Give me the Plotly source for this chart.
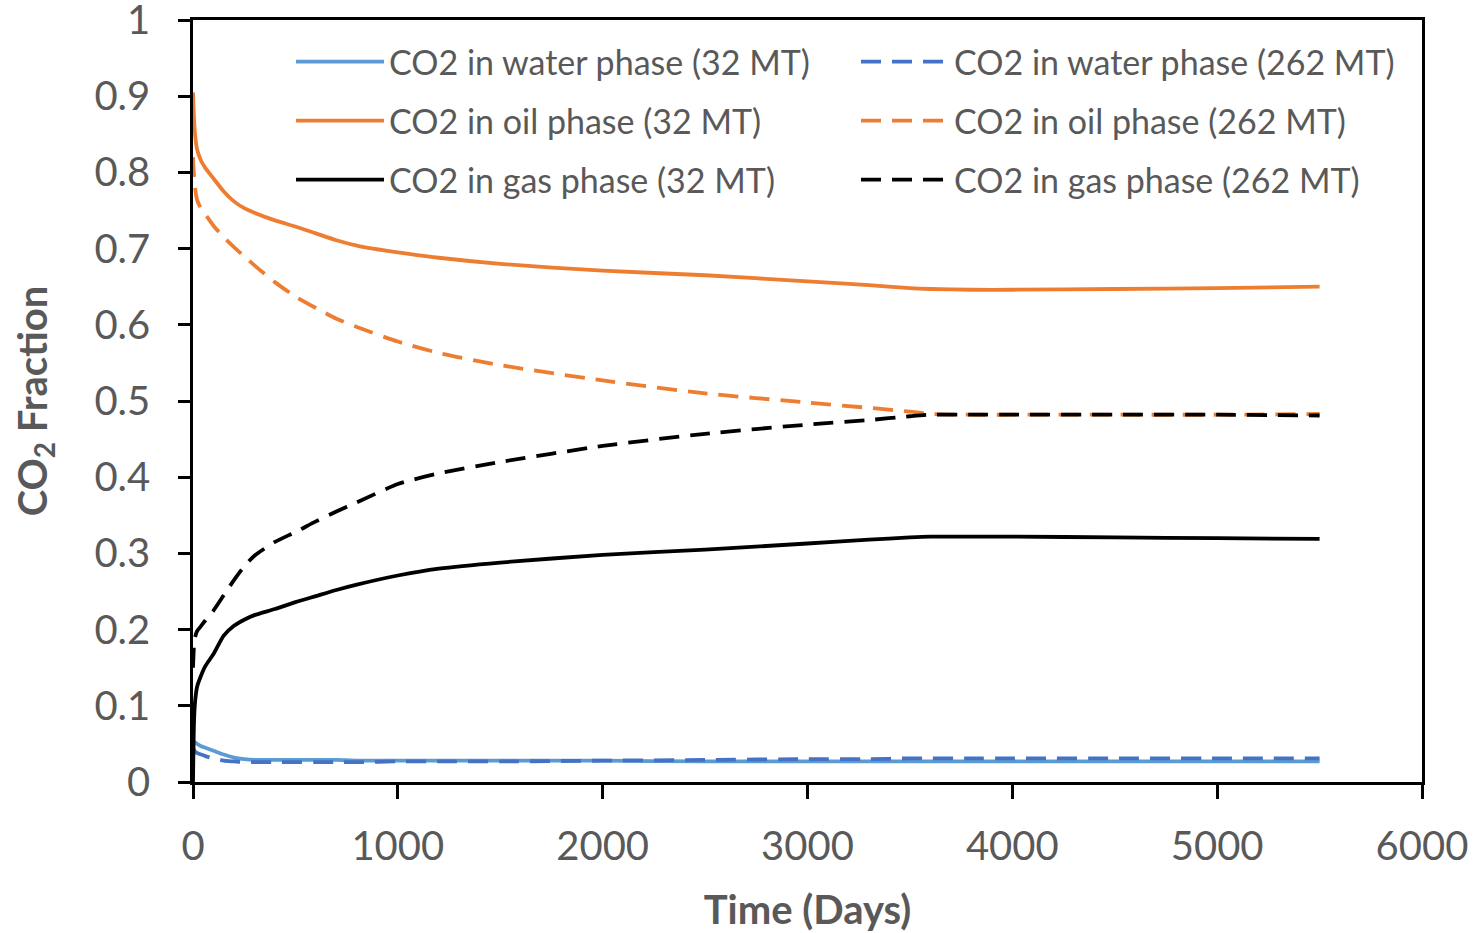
import plotly.graph_objects as go

# ---- data ----
time_days = [0, 5, 10, 20, 40, 60, 100, 150, 200, 250, 300, 400, 500, 600, 700, 800,
             1000, 1200, 1500, 2000, 2500, 3000, 3300, 3500, 3600, 3800, 4000, 4500, 5000, 5500]

water_32 = [0.055, 0.053, 0.052, 0.050, 0.047, 0.045, 0.041, 0.036, 0.032, 0.030, 0.029, 0.029,
            0.029, 0.029, 0.029, 0.028, 0.028, 0.028, 0.028, 0.028, 0.027, 0.027, 0.027, 0.027,
            0.027, 0.027, 0.027, 0.027, 0.027, 0.027]
water_262 = [0.045, 0.042, 0.040, 0.038, 0.036, 0.034, 0.031, 0.028, 0.027, 0.026, 0.026, 0.026,
             0.026, 0.026, 0.026, 0.026, 0.027, 0.027, 0.027, 0.028, 0.029, 0.030, 0.030, 0.031,
             0.031, 0.031, 0.031, 0.031, 0.031, 0.031]
oil_32 = [0.905, 0.870, 0.850, 0.830, 0.815, 0.806, 0.792, 0.775, 0.762, 0.753, 0.747, 0.737,
          0.729, 0.720, 0.711, 0.704, 0.695, 0.688, 0.680, 0.671, 0.665, 0.657, 0.652, 0.648,
          0.647, 0.646, 0.646, 0.647, 0.648, 0.650]
oil_262 = [0.820, 0.795, 0.780, 0.764, 0.752, 0.745, 0.730, 0.715, 0.702, 0.690, 0.678, 0.656,
           0.637, 0.622, 0.608, 0.597, 0.578, 0.563, 0.547, 0.527, 0.510, 0.498, 0.491, 0.486,
           0.483, 0.482, 0.482, 0.482, 0.482, 0.483]
gas_32 = [0.000, 0.080, 0.105, 0.125, 0.140, 0.152, 0.168, 0.192, 0.205, 0.213, 0.219, 0.227,
          0.236, 0.244, 0.252, 0.259, 0.271, 0.280, 0.288, 0.298, 0.305, 0.313, 0.318, 0.321,
          0.322, 0.322, 0.322, 0.321, 0.320, 0.319]
gas_262 = [0.150, 0.180, 0.190, 0.198, 0.205, 0.212, 0.225, 0.245, 0.265, 0.283, 0.297, 0.315,
           0.328, 0.342, 0.355, 0.367, 0.391, 0.405, 0.420, 0.441, 0.457, 0.469, 0.475, 0.480,
           0.482, 0.482, 0.482, 0.482, 0.482, 0.481]

x_ticks = [0, 1000, 2000, 3000, 4000, 5000, 6000]
y_ticks = [0, 0.1, 0.2, 0.3, 0.4, 0.5, 0.6, 0.7, 0.8, 0.9, 1]
y_tick_labels = ["0", "0.1", "0.2", "0.3", "0.4", "0.5", "0.6", "0.7", "0.8", "0.9", "1"]

series = [
    ("CO2 in water phase (32 MT)", water_32, "#5B9BD5", "solid", "legend"),
    ("CO2 in water phase (262 MT)", water_262, "#4472C4", "dash", "legend"),
    ("CO2 in oil phase (32 MT)", oil_32, "#ED7D31", "solid", "legend2"),
    ("CO2 in oil phase (262 MT)", oil_262, "#ED7D31", "dash", "legend2"),
    ("CO2 in gas phase (32 MT)", gas_32, "#000000", "solid", "legend3"),
    ("CO2 in gas phase (262 MT)", gas_262, "#000000", "dash", "legend3"),
]

FONT = "Lato"
GREY = "#595959"

fig = go.Figure()
for name, vals, color, dash, leg in series:
    fig.add_trace(go.Scatter(
        x=time_days, y=vals, mode="lines", name=name, legend=leg,
        line=dict(color=color, width=3.8, dash=("20px,11px" if dash == "dash" else "solid"),
                  shape="spline", smoothing=0.6),
    ))

W, H = 1474, 933
ml, mr, mt, mb = 193, 52, 20, 151
pw, ph = W - ml - mr, H - mt - mb


def px_to_paper_y(py):
    return (H - mb - py) / ph


def px_to_paper_x(px):
    return (px - ml) / pw


legend_common = dict(
    orientation="h", xanchor="left", yanchor="middle",
    x=px_to_paper_x(291), font=dict(family=FONT, size=34, color=GREY),
    bgcolor="rgba(0,0,0,0)", itemwidth=88, entrywidth=462, entrywidthmode="pixels",
    traceorder="normal",
)

fig.update_layout(
    width=W, height=H,
    margin=dict(l=ml, r=mr, t=mt, b=mb, autoexpand=False),
    paper_bgcolor="white", plot_bgcolor="white",
    font=dict(family=FONT, color=GREY),
    showlegend=True,
    legend=dict(y=px_to_paper_y(62), **legend_common),
    legend2=dict(y=px_to_paper_y(121), **legend_common),
    legend3=dict(y=px_to_paper_y(180), **legend_common),
    xaxis=dict(
        range=[0, 6000], tickvals=x_ticks, automargin=False, ticklabeloverflow="allow",
        showline=True, linecolor="black", linewidth=2.5, mirror=True,
        ticks="outside", ticklen=14, tickwidth=2.5, tickcolor="black",
        showgrid=False, zeroline=False,
        tickfont=dict(family=FONT, size=40, color=GREY),
        ticklabelstandoff=13,
        title=dict(text="<b>Time (Days)</b>", font=dict(family=FONT, size=40, color=GREY), standoff=29),
    ),
    yaxis=dict(
        range=[0, 1], tickvals=y_ticks, ticktext=y_tick_labels, automargin=False,
        ticklabeloverflow="allow",
        showline=True, linecolor="black", linewidth=2.5, mirror=True,
        ticks="outside", ticklen=12, tickwidth=2.5, tickcolor="black",
        showgrid=False, zeroline=False,
        tickfont=dict(family=FONT, size=40, color=GREY),
        ticklabelstandoff=20,
        title=dict(text="<b>CO<sub>2</sub> Fraction</b>", font=dict(family=FONT, size=40, color=GREY), standoff=35),
    ),
)

# remove the browser's default 8px body margin so the figure fills the window exactly
fig.write_html("out.html",
               config={"displayModeBar": False},
               post_script="document.body.style.margin='0';document.body.style.overflow='hidden';")
